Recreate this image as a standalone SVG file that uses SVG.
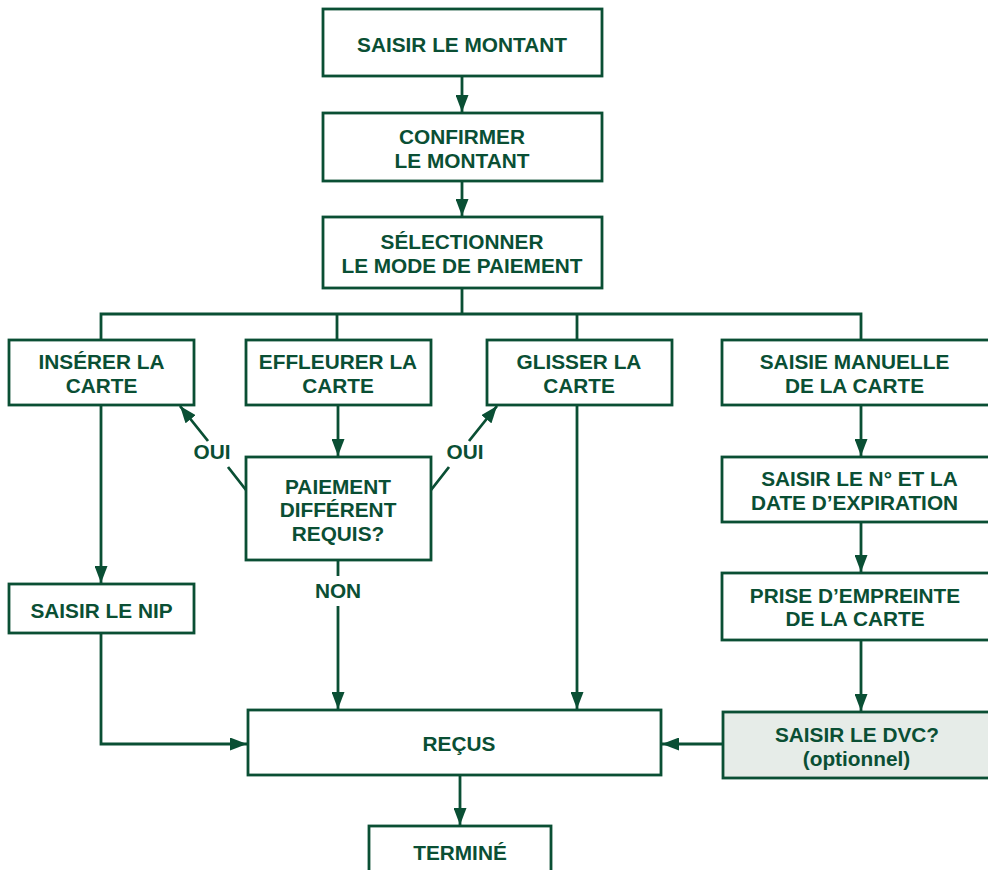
<svg xmlns="http://www.w3.org/2000/svg" width="988" height="870" viewBox="0 0 988 870">
<defs>
<style>
.b{fill:#fff;stroke:#0a4f34;stroke-width:2.8}
.g{fill:#e6ece8;stroke:#0a4f34;stroke-width:2.8}
.t{font-family:"Liberation Sans",Arial,sans-serif;font-weight:bold;font-size:20.8px;fill:#0a4f34;text-anchor:middle}
.c{fill:none;stroke:#0a4f34;stroke-width:2.8}
</style>
<marker id="ah" viewBox="0 0 17 13" refX="17" refY="6.5" markerWidth="17" markerHeight="13" markerUnits="userSpaceOnUse" orient="auto">
<path d="M0,0 L17,6.5 L0,13 z" fill="#0a4f34"/>
</marker>
</defs>
<rect width="988" height="870" fill="#fff"/>
<g id="connectors">
<path class="c" d="M462,76 V112" marker-end="url(#ah)"/>
<path class="c" d="M462,181 V216" marker-end="url(#ah)"/>
<path class="c" d="M462,288 V314 M101,340 V314 H861 V340 M337,314 V340 M577,314 V340"/>
<path class="c" d="M338,405 V456" marker-end="url(#ah)"/>
<path class="c" d="M246,490 L228,467 M208,441 L180,406" marker-end="url(#ah)"/>
<path class="c" d="M431,490 L449,467 M469,441 L497,406" marker-end="url(#ah)"/>
<path class="c" d="M101,405 V583" marker-end="url(#ah)"/>
<path class="c" d="M101,633 V744 H247" marker-end="url(#ah)"/>
<path class="c" d="M338,560 V576 M338,606 V709" marker-end="url(#ah)"/>
<path class="c" d="M577,405 V709" marker-end="url(#ah)"/>
<path class="c" d="M861,405 V456" marker-end="url(#ah)"/>
<path class="c" d="M861,522 V572" marker-end="url(#ah)"/>
<path class="c" d="M861,640 V711" marker-end="url(#ah)"/>
<path class="c" d="M723,744 H662" marker-end="url(#ah)"/>
<path class="c" d="M460,775 V825" marker-end="url(#ah)"/>
<text class="t" x="212" y="459">OUI</text>
<text class="t" x="465" y="459">OUI</text>
<text class="t" x="338" y="598">NON</text>
</g>
<g id="n1"><rect class="b" x="323" y="9" width="279" height="67"/><text class="t" x="462" y="51.5">SAISIR LE MONTANT</text></g>
<g id="n2"><rect class="b" x="323" y="113" width="279" height="68"/><text class="t"><tspan x="462" y="143.5">CONFIRMER</tspan><tspan x="462" y="167.5">LE MONTANT</tspan></text></g>
<g id="n3"><rect class="b" x="323" y="217" width="279" height="71"/><text class="t"><tspan x="462" y="249">SÉLECTIONNER</tspan><tspan x="462" y="273">LE MODE DE PAIEMENT</tspan></text></g>
<g id="n4"><rect class="b" x="9" y="340" width="185" height="65"/><text class="t"><tspan x="101.5" y="369">INSÉRER LA</tspan><tspan x="101.5" y="392.8">CARTE</tspan></text></g>
<g id="n5"><rect class="b" x="246" y="340" width="185" height="65"/><text class="t"><tspan x="338" y="369">EFFLEURER LA</tspan><tspan x="338" y="392.8">CARTE</tspan></text></g>
<g id="n6"><rect class="b" x="487" y="340" width="185" height="65"/><text class="t"><tspan x="579" y="369">GLISSER LA</tspan><tspan x="579" y="392.8">CARTE</tspan></text></g>
<g id="n7"><rect class="b" x="722" y="340" width="270" height="65"/><text class="t"><tspan x="854.5" y="369">SAISIE MANUELLE</tspan><tspan x="854.5" y="392.8">DE LA CARTE</tspan></text></g>
<g id="n8"><rect class="b" x="246" y="457" width="185" height="103"/><text class="t"><tspan x="338" y="493.5">PAIEMENT</tspan><tspan x="338" y="517.3">DIFFÉRENT</tspan><tspan x="338" y="541.1">REQUIS?</tspan></text></g>
<g id="n9"><rect class="b" x="722" y="457" width="270" height="65"/><text class="t"><tspan x="859.5" y="486">SAISIR LE N° ET LA</tspan><tspan x="854.5" y="509.8">DATE D’EXPIRATION</tspan></text></g>
<g id="n10"><rect class="b" x="9" y="584" width="185" height="49"/><text class="t" x="101.5" y="617.5">SAISIR LE NIP</text></g>
<g id="n11"><rect class="b" x="722" y="573" width="270" height="67"/><text class="t"><tspan x="855" y="602.5">PRISE D’EMPREINTE</tspan><tspan x="855" y="626.3">DE LA CARTE</tspan></text></g>
<g id="n12"><rect class="b" x="248" y="710" width="413" height="65"/><text class="t" x="459" y="751">REÇUS</text></g>
<g id="n13"><rect class="g" x="723" y="712" width="270" height="66"/><text class="t"><tspan x="857" y="742.2">SAISIR LE DVC?</tspan><tspan x="856.5" y="766">(optionnel)</tspan></text></g>
<g id="n14"><rect class="b" x="369" y="826" width="182" height="60"/><text class="t" x="460" y="859.5">TERMINÉ</text></g>
</svg>
